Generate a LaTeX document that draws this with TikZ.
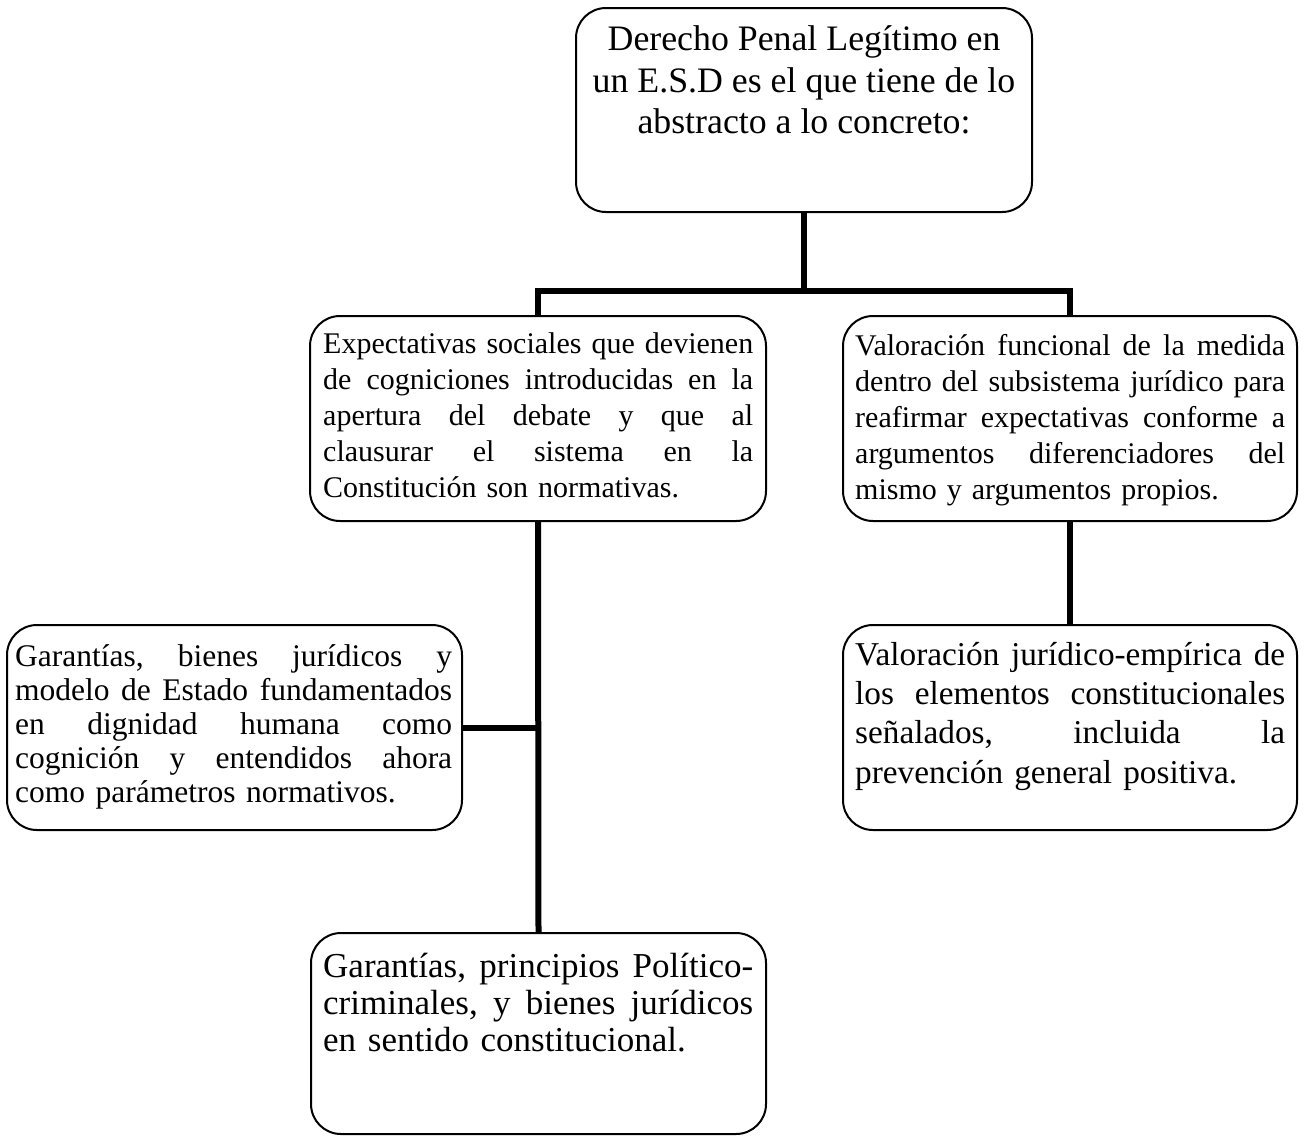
\documentclass[tikz,border=0pt]{standalone}
\usepackage{fontspec}
\setmainfont{Liberation Serif}
\newcommand{\J}[2]{\leavevmode\hbox to #1{#2}}
\begin{document}
\begin{tikzpicture}[x=1pt,y=-1pt,
  box/.style={draw=black,line width=2pt,rounded corners=30pt,inner sep=0pt,fill=none},
  conn/.style={draw=black,line width=6pt},
  txt/.style={inner sep=0pt,align=left,anchor=base west,text width=430pt},
]
\useasboundingbox[fill=white] (0,0) rectangle (1306,1136);
% boxes
\node[box,minimum width=456pt,minimum height=204pt] (top) at (804,110) {};
\node[box,minimum width=456pt,minimum height=205pt] (ml) at (538,418.5) {};
\node[box,minimum width=454pt,minimum height=205pt] (mr) at (1070,418.5) {};
\node[box,minimum width=455pt,minimum height=205pt] (ll) at (234.5,727.5) {};
\node[box,minimum width=454pt,minimum height=205pt] (rl) at (1070,727.5) {};
\node[box,minimum width=455pt,minimum height=201pt] (bot) at (538.5,1033.5) {};
% connectors
\coordinate (j) at (804,291);
\draw[conn] (top.south) -- (j);
\draw[conn] (ml.north) |- (j) -| (mr.north);
\draw[conn] (ml.south) -- (bot.north);
\draw[conn] (ll.east) -- (ll.east -| ml.south);
\draw[conn] (mr.south) -- (rl.north);
% texts
\node[inner sep=0pt,align=center,anchor=base,font=\fontsize{35.8}{41.3}\selectfont] (ttop) at (804,133.3)
  {Derecho Penal Legítimo en\\un E.S.D es el que tiene de lo\\abstracto a lo concreto:};
\node[txt,font=\fontsize{30}{36.2}\selectfont] (tml) at (323,353)
  {\J{430pt}{Expectativas\hfill sociales\hfill que\hfill devienen}\\
   \J{430pt}{de\hfill cogniciones\hfill introducidas\hfill en\hfill la}\\
   \J{430pt}{apertura\hfill del\hfill debate\hfill y\hfill que\hfill al}\\
   \J{430pt}{clausurar\hfill el\hfill sistema\hfill en\hfill la}\\
   Constitución son normativas.};
\node[txt,font=\fontsize{30}{36.2}\selectfont] (tmr) at (855,355)
  {\J{430pt}{Valoración\hfill funcional\hfill de\hfill la\hfill medida}\\
   \J{430pt}{dentro\hfill del\hfill subsistema\hfill jurídico\hfill para}\\
   \J{430pt}{reafirmar\hfill expectativas\hfill conforme\hfill a}\\
   \J{430pt}{argumentos\hfill diferenciadores\hfill del}\\
   mismo y argumentos propios.};
\node[txt,text width=437pt,font=\fontsize{31.5}{34}\selectfont] (tll) at (15,666)
  {\J{437pt}{Garantías,\hfill bienes\hfill jurídicos\hfill y}\\
   \J{437pt}{modelo\hfill de\hfill Estado\hfill fundamentados}\\
   \J{437pt}{en\hfill dignidad\hfill humana\hfill como}\\
   \J{437pt}{cognición\hfill y\hfill entendidos\hfill ahora}\\
   como parámetros normativos.};
\node[txt,font=\fontsize{33.3}{39.4}\selectfont] (trl) at (855,665)
  {\J{430pt}{Valoración\hfill jurídico-empírica\hfill de}\\
   \J{430pt}{los\hfill elementos\hfill constitucionales}\\
   \J{430pt}{señalados,\hfill incluida\hfill la}\\
   prevención general positiva.};
\node[txt,font=\fontsize{35}{37.2}\selectfont] (tbot) at (323,977)
  {\J{430pt}{Garantías,\hfill principios\hfill Político-}\\
   \J{430pt}{criminales,\hfill y\hfill bienes\hfill jurídicos}\\
   en sentido constitucional.};
\end{tikzpicture}
\end{document}
